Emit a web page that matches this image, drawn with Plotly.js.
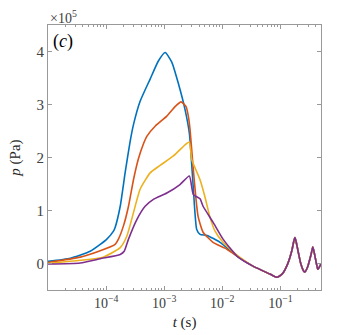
<!DOCTYPE html>
<html>
<head>
<meta charset="utf-8">
<script src="https://cdn.plot.ly/plotly-3.0.1.min.js"></script>
<style>
  html, body { margin: 0; padding: 0; background: #fff; }
  #plot { width: 354px; height: 335px; }
</style>
</head>
<body>
<div id="plot"></div>
<script>
// time (s) and pressure (Pa)
var tBlue = [1.0e-5, 2.42e-5, 5.33e-5, 7.92e-5, 1.03e-4, 1.34e-4, 1.43e-4, 1.75e-4, 2.13e-4, 2.59e-4,
             2.96e-4, 3.85e-4, 5.73e-4, 7.94e-4, 1.04e-3, 1.35e-3, 1.75e-3, 2.29e-3, 2.71e-3, 2.86e-3,
             3.18e-3, 3.63e-3, 4.14e-3, 5.47e-3, 9.14e-3, 1.79e-2];
var pBlue = [0.04e5, 0.10e5, 0.23e5, 0.36e5, 0.46e5, 0.61e5, 0.68e5, 1.08e5, 1.72e5, 2.30e5,
             2.62e5, 3.06e5, 3.48e5, 3.82e5, 3.98e5, 3.80e5, 3.40e5, 2.90e5, 2.46e5, 2.15e5,
             1.40e5, 0.64e5, 0.55e5, 0.53e5, 0.40e5, 0.14e5];

var tRed = [1.0e-5, 3.59e-5, 7.92e-5, 1.43e-4, 1.63e-4, 1.99e-4, 2.43e-4, 2.96e-4, 3.61e-4, 4.40e-4,
            5.02e-4, 6.98e-4, 1.11e-3, 1.54e-3, 1.95e-3, 2.38e-3, 2.61e-3, 2.79e-3, 3.14e-3, 3.53e-3,
            3.83e-3, 4.67e-3, 6.92e-3, 1.11e-2, 1.79e-2];
var pRed = [0.02e5, 0.12e5, 0.24e5, 0.36e5, 0.46e5, 0.71e5, 1.08e5, 1.58e5, 1.98e5, 2.26e5,
            2.40e5, 2.59e5, 2.78e5, 2.96e5, 3.05e5, 2.96e5, 2.77e5, 2.52e5, 1.83e5, 1.21e5,
            0.89e5, 0.59e5, 0.40e5, 0.29e5, 0.14e5];

var tYellow = [1.0e-5, 3.59e-5, 8.91e-5, 1.75e-4, 2.28e-4, 2.96e-4, 3.85e-4, 5.73e-4, 8.49e-4, 1.44e-3,
               2.29e-3, 2.71e-3, 2.98e-3, 4.14e-3, 5.05e-3, 6.15e-3, 7.50e-3, 1.03e-2, 1.79e-2];
var pYellow = [0.00e5, 0.06e5, 0.12e5, 0.30e5, 0.52e5, 0.96e5, 1.40e5, 1.71e5, 1.85e5, 2.03e5,
               2.24e5, 2.29e5, 1.96e5, 1.58e5, 1.25e5, 0.87e5, 0.61e5, 0.40e5, 0.16e5];

var tPurple = [1.0e-5, 3.59e-5, 7.92e-5, 1.75e-4, 2.05e-4, 2.43e-4, 3.38e-4, 4.70e-4, 6.52e-4, 1.11e-3,
               1.87e-3, 2.71e-3, 3.18e-3, 4.14e-3, 4.67e-3, 6.92e-3, 1.03e-2, 1.79e-2];
var pPurple = [-0.01e5, 0.01e5, 0.09e5, 0.17e5, 0.23e5, 0.46e5, 0.83e5, 1.08e5, 1.21e5, 1.33e5,
               1.49e5, 1.65e5, 1.30e5, 1.22e5, 1.08e5, 0.78e5, 0.46e5, 0.14e5];

// late-time part, shared by all four runs
var tTail = [3.37e-2, 6.61e-2, 8.71e-2, 0.107, 0.132, 0.158, 0.170, 0.178, 0.186, 0.200,
             0.224, 0.251, 0.264, 0.295, 0.339, 0.361, 0.380, 0.417, 0.441, 0.468, 0.497];
var pTail = [-0.05e5, -0.20e5, -0.26e5, -0.20e5, -0.02e5, 0.25e5, 0.42e5, 0.49e5, 0.42e5, 0.25e5,
             0.00e5, -0.14e5, -0.16e5, -0.06e5, 0.18e5, 0.31e5, 0.22e5, 0.00e5, -0.11e5, -0.07e5,
             -0.01e5];

var colors = ['#0072BD', '#D95319', '#EDB120', '#7E2F8E'];
var series = [[tBlue, pBlue], [tRed, pRed], [tYellow, pYellow], [tPurple, pPurple]];

var data = series.map(function (s, i) {
    return {
        x: s[0].concat(tTail),
        y: s[1].concat(pTail),
        type: 'scatter',
        mode: 'lines',
        line: { color: colors[i], width: 1.6, shape: 'spline', smoothing: 0.5 },
        showlegend: false,
        hoverinfo: 'skip'
    };
});

var axisColor = '#999999';
var serif = '"Liberation Serif", "Times New Roman", Times, serif';

var layout = {
    width: 354,
    height: 335,
    margin: { l: 48, r: 33, t: 25, b: 45 },
    paper_bgcolor: '#fff',
    plot_bgcolor: '#fff',
    font: { family: serif, size: 14, color: '#404040' },
    xaxis: {
        type: 'log',
        range: [-5, -0.301],
        tickvals: [1e-4, 1e-3, 1e-2, 1e-1],
        ticktext: ['10<sup>\u22124</sup>', '10<sup>\u22123</sup>', '10<sup>\u22122</sup>', '10<sup>\u22121</sup>'],
        tickfont: { family: serif, size: 14, color: '#404040' },
        ticks: 'inside',
        ticklen: 4,
        tickcolor: axisColor,
        minor: { ticks: 'inside', ticklen: 2, tickcolor: axisColor,
                 tickvals: [2e-5,3e-5,4e-5,5e-5,6e-5,7e-5,8e-5,9e-5,
                            2e-4,3e-4,4e-4,5e-4,6e-4,7e-4,8e-4,9e-4,
                            2e-3,3e-3,4e-3,5e-3,6e-3,7e-3,8e-3,9e-3,
                            2e-2,3e-2,4e-2,5e-2,6e-2,7e-2,8e-2,9e-2,
                            0.2,0.3,0.4] },
        showline: true,
        linecolor: axisColor,
        linewidth: 1,
        mirror: 'ticks',
        showgrid: false,
        zeroline: false,
        title: { text: '<i>t</i> (s)', font: { family: serif, size: 15, color: '#262626' }, standoff: 6 }
    },
    yaxis: {
        range: [-0.5e5, 4.5e5],
        tickvals: [0, 1e5, 2e5, 3e5, 4e5],
        ticktext: ['0', '1', '2', '3', '4'],
        tickfont: { family: serif, size: 15, color: '#404040' },
        ticks: 'inside',
        ticklen: 4,
        tickcolor: axisColor,
        showline: true,
        linecolor: axisColor,
        linewidth: 1,
        mirror: 'ticks',
        showgrid: false,
        zeroline: false,
        title: { text: '<i>p</i> (Pa)', font: { family: serif, size: 15, color: '#262626' }, standoff: 12 }
    },
    annotations: [
        { text: '\u00d710<sup>5</sup>', xref: 'paper', yref: 'paper', x: 0, y: 1,
          xanchor: 'left', yanchor: 'bottom', showarrow: false, yshift: -3,
          font: { family: serif, size: 14, color: '#404040' } },
        { text: '(<i>c</i>)', xref: 'paper', yref: 'paper', x: 0.01, y: 0.985,
          xanchor: 'left', yanchor: 'top', showarrow: false,
          font: { family: serif, size: 18, color: '#000' } }
    ]
};

Plotly.newPlot('plot', data, layout, { displayModeBar: false, staticPlot: true });
</script>
</body>
</html>
